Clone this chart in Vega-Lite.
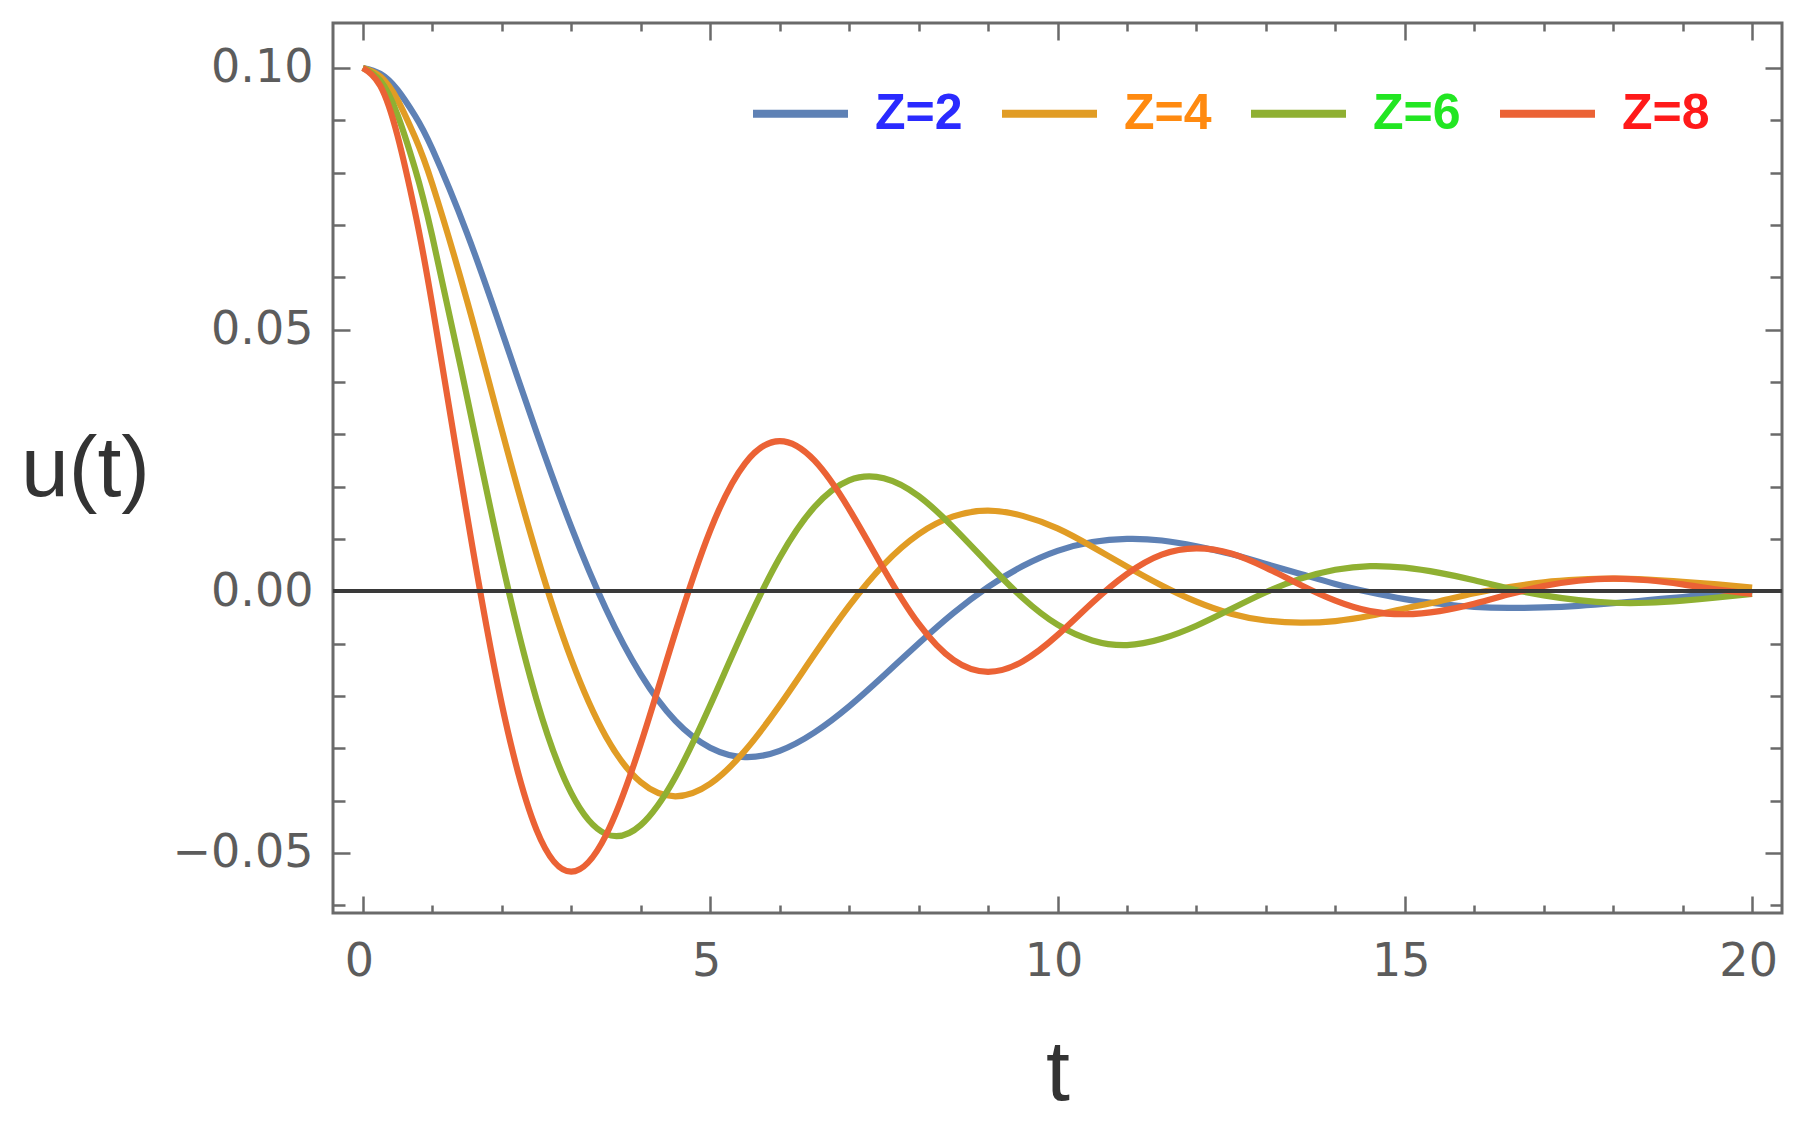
{
  "$schema": "https://vega.github.io/schema/vega-lite/v6.json",
  "width": 1449,
  "height": 890,
  "autosize": "none",
  "padding": {"left": 333, "top": 23, "right": 19, "bottom": 211},
  "background": "white",
  "data": {
    "values": [
      {"t": 0, "u": 0.1, "Z": "Z=2"}, {"t": 0.25, "u": 0.0989, "Z": "Z=2"}, {"t": 0.5, "u": 0.0958, "Z": "Z=2"}, {"t": 0.75, "u": 0.0909, "Z": "Z=2"},
      {"t": 1, "u": 0.0845, "Z": "Z=2"}, {"t": 1.5, "u": 0.0684, "Z": "Z=2"}, {"t": 2, "u": 0.0497, "Z": "Z=2"}, {"t": 2.5, "u": 0.0304, "Z": "Z=2"},
      {"t": 3, "u": 0.0123, "Z": "Z=2"}, {"t": 3.5, "u": -0.0034, "Z": "Z=2"}, {"t": 4, "u": -0.0159, "Z": "Z=2"}, {"t": 4.5, "u": -0.0248, "Z": "Z=2"},
      {"t": 5, "u": -0.0299, "Z": "Z=2"}, {"t": 5.5, "u": -0.0317, "Z": "Z=2"}, {"t": 6, "u": -0.0305, "Z": "Z=2"}, {"t": 6.5, "u": -0.027, "Z": "Z=2"},
      {"t": 7, "u": -0.022, "Z": "Z=2"}, {"t": 7.5, "u": -0.0161, "Z": "Z=2"}, {"t": 8, "u": -0.01, "Z": "Z=2"}, {"t": 8.5, "u": -0.0042, "Z": "Z=2"},
      {"t": 9, "u": 0.0008, "Z": "Z=2"}, {"t": 9.5, "u": 0.0048, "Z": "Z=2"}, {"t": 10, "u": 0.0077, "Z": "Z=2"}, {"t": 10.5, "u": 0.0094, "Z": "Z=2"},
      {"t": 11, "u": 0.01, "Z": "Z=2"}, {"t": 11.5, "u": 0.0097, "Z": "Z=2"}, {"t": 12, "u": 0.0086, "Z": "Z=2"}, {"t": 12.5, "u": 0.0071, "Z": "Z=2"},
      {"t": 13, "u": 0.0052, "Z": "Z=2"}, {"t": 13.5, "u": 0.0033, "Z": "Z=2"}, {"t": 14, "u": 0.0014, "Z": "Z=2"}, {"t": 14.5, "u": -0.0002, "Z": "Z=2"},
      {"t": 15, "u": -0.0015, "Z": "Z=2"}, {"t": 15.5, "u": -0.0024, "Z": "Z=2"}, {"t": 16, "u": -0.003, "Z": "Z=2"}, {"t": 16.5, "u": -0.0032, "Z": "Z=2"},
      {"t": 17, "u": -0.0031, "Z": "Z=2"}, {"t": 17.5, "u": -0.0028, "Z": "Z=2"}, {"t": 18, "u": -0.0023, "Z": "Z=2"}, {"t": 18.5, "u": -0.0017, "Z": "Z=2"},
      {"t": 19, "u": -0.0011, "Z": "Z=2"}, {"t": 19.5, "u": -0.0005, "Z": "Z=2"}, {"t": 20, "u": 0.0, "Z": "Z=2"},

      {"t": 0, "u": 0.1, "Z": "Z=4"}, {"t": 0.25, "u": 0.0984, "Z": "Z=4"}, {"t": 0.5, "u": 0.0939, "Z": "Z=4"}, {"t": 0.75, "u": 0.0868, "Z": "Z=4"},
      {"t": 1, "u": 0.0778, "Z": "Z=4"}, {"t": 1.5, "u": 0.0555, "Z": "Z=4"}, {"t": 2, "u": 0.0308, "Z": "Z=4"}, {"t": 2.5, "u": 0.0071, "Z": "Z=4"},
      {"t": 3, "u": -0.013, "Z": "Z=4"}, {"t": 3.5, "u": -0.0278, "Z": "Z=4"}, {"t": 4, "u": -0.0365, "Z": "Z=4"}, {"t": 4.5, "u": -0.0392, "Z": "Z=4"},
      {"t": 5, "u": -0.0368, "Z": "Z=4"}, {"t": 5.5, "u": -0.0305, "Z": "Z=4"}, {"t": 6, "u": -0.0218, "Z": "Z=4"}, {"t": 6.5, "u": -0.0121, "Z": "Z=4"},
      {"t": 7, "u": -0.0028, "Z": "Z=4"}, {"t": 7.5, "u": 0.0051, "Z": "Z=4"}, {"t": 8, "u": 0.0109, "Z": "Z=4"}, {"t": 8.5, "u": 0.0143, "Z": "Z=4"},
      {"t": 9, "u": 0.0154, "Z": "Z=4"}, {"t": 9.5, "u": 0.0144, "Z": "Z=4"}, {"t": 10, "u": 0.012, "Z": "Z=4"}, {"t": 10.5, "u": 0.0085, "Z": "Z=4"},
      {"t": 11, "u": 0.0047, "Z": "Z=4"}, {"t": 11.5, "u": 0.0011, "Z": "Z=4"}, {"t": 12, "u": -0.002, "Z": "Z=4"}, {"t": 12.5, "u": -0.0043, "Z": "Z=4"},
      {"t": 13, "u": -0.0056, "Z": "Z=4"}, {"t": 13.5, "u": -0.006, "Z": "Z=4"}, {"t": 14, "u": -0.0057, "Z": "Z=4"}, {"t": 14.5, "u": -0.0047, "Z": "Z=4"},
      {"t": 15, "u": -0.0033, "Z": "Z=4"}, {"t": 15.5, "u": -0.0019, "Z": "Z=4"}, {"t": 16, "u": -0.0004, "Z": "Z=4"}, {"t": 16.5, "u": 0.0008, "Z": "Z=4"},
      {"t": 17, "u": 0.0017, "Z": "Z=4"}, {"t": 17.5, "u": 0.0022, "Z": "Z=4"}, {"t": 18, "u": 0.0024, "Z": "Z=4"}, {"t": 18.5, "u": 0.0022, "Z": "Z=4"},
      {"t": 19, "u": 0.0018, "Z": "Z=4"}, {"t": 19.5, "u": 0.0013, "Z": "Z=4"}, {"t": 20, "u": 0.0007, "Z": "Z=4"},

      {"t": 0, "u": 0.1, "Z": "Z=6"}, {"t": 0.25, "u": 0.0976, "Z": "Z=6"}, {"t": 0.5, "u": 0.091, "Z": "Z=6"}, {"t": 0.75, "u": 0.0808, "Z": "Z=6"},
      {"t": 1, "u": 0.0678, "Z": "Z=6"}, {"t": 1.5, "u": 0.0371, "Z": "Z=6"}, {"t": 2, "u": 0.0058, "Z": "Z=6"}, {"t": 2.5, "u": -0.0207, "Z": "Z=6"},
      {"t": 3, "u": -0.0386, "Z": "Z=6"}, {"t": 3.5, "u": -0.0464, "Z": "Z=6"}, {"t": 4, "u": -0.0447, "Z": "Z=6"}, {"t": 4.5, "u": -0.0355, "Z": "Z=6"},
      {"t": 5, "u": -0.0218, "Z": "Z=6"}, {"t": 5.5, "u": -0.0069, "Z": "Z=6"}, {"t": 6, "u": 0.0064, "Z": "Z=6"}, {"t": 6.5, "u": 0.0161, "Z": "Z=6"},
      {"t": 7, "u": 0.0212, "Z": "Z=6"}, {"t": 7.5, "u": 0.0216, "Z": "Z=6"}, {"t": 8, "u": 0.0182, "Z": "Z=6"}, {"t": 8.5, "u": 0.0122, "Z": "Z=6"},
      {"t": 9, "u": 0.0053, "Z": "Z=6"}, {"t": 9.5, "u": -0.0013, "Z": "Z=6"}, {"t": 10, "u": -0.0064, "Z": "Z=6"}, {"t": 10.5, "u": -0.0094, "Z": "Z=6"},
      {"t": 11, "u": -0.0103, "Z": "Z=6"}, {"t": 11.5, "u": -0.0091, "Z": "Z=6"}, {"t": 12, "u": -0.0066, "Z": "Z=6"}, {"t": 12.5, "u": -0.0034, "Z": "Z=6"},
      {"t": 13, "u": -0.0002, "Z": "Z=6"}, {"t": 13.5, "u": 0.0024, "Z": "Z=6"}, {"t": 14, "u": 0.0041, "Z": "Z=6"}, {"t": 14.5, "u": 0.0048, "Z": "Z=6"},
      {"t": 15, "u": 0.0045, "Z": "Z=6"}, {"t": 15.5, "u": 0.0035, "Z": "Z=6"}, {"t": 16, "u": 0.0021, "Z": "Z=6"}, {"t": 16.5, "u": 0.0005, "Z": "Z=6"},
      {"t": 17, "u": -0.0008, "Z": "Z=6"}, {"t": 17.5, "u": -0.0017, "Z": "Z=6"}, {"t": 18, "u": -0.0022, "Z": "Z=6"}, {"t": 18.5, "u": -0.0022, "Z": "Z=6"},
      {"t": 19, "u": -0.0018, "Z": "Z=6"}, {"t": 19.5, "u": -0.0012, "Z": "Z=6"}, {"t": 20, "u": -0.0005, "Z": "Z=6"},

      {"t": 0, "u": 0.1, "Z": "Z=8"}, {"t": 0.25, "u": 0.0966, "Z": "Z=8"}, {"t": 0.5, "u": 0.087, "Z": "Z=8"}, {"t": 0.75, "u": 0.0725, "Z": "Z=8"},
      {"t": 1, "u": 0.0546, "Z": "Z=8"}, {"t": 1.5, "u": 0.0145, "Z": "Z=8"}, {"t": 2, "u": -0.0216, "Z": "Z=8"}, {"t": 2.5, "u": -0.0456, "Z": "Z=8"},
      {"t": 3, "u": -0.0536, "Z": "Z=8"}, {"t": 3.5, "u": -0.0466, "Z": "Z=8"}, {"t": 4, "u": -0.0292, "Z": "Z=8"}, {"t": 4.5, "u": -0.0078, "Z": "Z=8"},
      {"t": 5, "u": 0.0116, "Z": "Z=8"}, {"t": 5.5, "u": 0.0244, "Z": "Z=8"}, {"t": 6, "u": 0.0287, "Z": "Z=8"}, {"t": 6.5, "u": 0.025, "Z": "Z=8"},
      {"t": 7, "u": 0.0157, "Z": "Z=8"}, {"t": 7.5, "u": 0.0042, "Z": "Z=8"}, {"t": 8, "u": -0.0062, "Z": "Z=8"}, {"t": 8.5, "u": -0.0131, "Z": "Z=8"},
      {"t": 9, "u": -0.0154, "Z": "Z=8"}, {"t": 9.5, "u": -0.0134, "Z": "Z=8"}, {"t": 10, "u": -0.0084, "Z": "Z=8"}, {"t": 10.5, "u": -0.0022, "Z": "Z=8"},
      {"t": 11, "u": 0.0033, "Z": "Z=8"}, {"t": 11.5, "u": 0.007, "Z": "Z=8"}, {"t": 12, "u": 0.0082, "Z": "Z=8"}, {"t": 12.5, "u": 0.0072, "Z": "Z=8"},
      {"t": 13, "u": 0.0045, "Z": "Z=8"}, {"t": 13.5, "u": 0.0012, "Z": "Z=8"}, {"t": 14, "u": -0.0018, "Z": "Z=8"}, {"t": 14.5, "u": -0.0038, "Z": "Z=8"},
      {"t": 15, "u": -0.0044, "Z": "Z=8"}, {"t": 15.5, "u": -0.0038, "Z": "Z=8"}, {"t": 16, "u": -0.0024, "Z": "Z=8"}, {"t": 16.5, "u": -0.0006, "Z": "Z=8"},
      {"t": 17, "u": 0.001, "Z": "Z=8"}, {"t": 17.5, "u": 0.002, "Z": "Z=8"}, {"t": 18, "u": 0.0024, "Z": "Z=8"}, {"t": 18.5, "u": 0.0021, "Z": "Z=8"},
      {"t": 19, "u": 0.0013, "Z": "Z=8"}, {"t": 19.5, "u": 0.0003, "Z": "Z=8"}, {"t": 20, "u": -0.0005, "Z": "Z=8"}
    ]
  },
  "layer": [
    {
      "mark": {"type": "line", "strokeWidth": 6.2, "interpolate": "natural"},
      "encoding": {
        "x": {
          "field": "t",
          "type": "quantitative",
          "scale": {"domain": [-0.43, 20.43], "nice": false, "zero": false},
          "axis": {
            "orient": "bottom",
            "values": [0, 1, 2, 3, 4, 5, 6, 7, 8, 9, 10, 11, 12, 13, 14, 15, 16, 17, 18, 19, 20],
            "labelExpr": "datum.value % 5 === 0 ? datum.label : ''",
            "labelFlush": false,
            "labelOverlap": false,
            "labelFont": "DejaVu Sans",
            "labelFontSize": 46,
            "labelColor": "#5c5c5c",
            "labelPadding": 43,
            "labelOffset": -4,
            "tickSize": {"condition": {"test": "datum.value % 5 === 0", "value": -17}, "value": -8},
            "title": "t",
            "titleFont": "Liberation Sans",
            "titleFontSize": 86,
            "titleFontWeight": "normal",
            "titleColor": "#333333",
            "titleBaseline": "alphabetic",
            "titleY": 186
          }
        },
        "y": {
          "field": "u",
          "type": "quantitative",
          "scale": {"domain": [-0.0615, 0.1086], "nice": false, "zero": false},
          "axis": {
            "orient": "left",
            "values": [-0.06, -0.05, -0.04, -0.03, -0.02, -0.01, 0, 0.01, 0.02, 0.03, 0.04, 0.05, 0.06, 0.07, 0.08, 0.09, 0.1],
            "format": ".2f",
            "labelExpr": "abs(round(datum.value * 100)) % 5 === 0 ? datum.label : ''",
            "labelOverlap": false,
            "labelFlush": false,
            "labelFont": "DejaVu Sans",
            "labelFontSize": 46,
            "labelColor": "#5c5c5c",
            "labelPadding": 37,
            "tickSize": {"condition": {"test": "abs(round(datum.value * 100)) % 5 === 0", "value": -17}, "value": -12},
            "title": "u(t)",
            "titleFont": "Liberation Sans",
            "titleFontSize": 86,
            "titleFontWeight": "normal",
            "titleColor": "#333333",
            "titleAngle": 0,
            "titleAlign": "center",
            "titleBaseline": "alphabetic",
            "titleX": -248,
            "titleY": 472
          }
        },
        "color": {
          "field": "Z",
          "type": "nominal",
          "scale": {"domain": ["Z=2", "Z=4", "Z=6", "Z=8"], "range": ["#5E81B5", "#E19C24", "#8FB032", "#EB6235"]},
          "legend": {
            "orient": "none",
            "legendX": 416,
            "legendY": 39,
            "direction": "horizontal",
            "columns": 4,
            "title": null,
            "padding": 0,
            "symbolType": "stroke",
            "symbolSize": 9025,
            "symbolStrokeWidth": 8,
            "labelFont": "Liberation Sans",
            "labelFontSize": 50,
            "labelFontWeight": "bold",
            "labelOffset": 23,
            "labelLimit": 0,
            "columnPadding": 23,
            "encode": {
              "labels": {
                "update": {
                  "fill": {"signal": "datum.value === 'Z=2' ? '#2a2aff' : datum.value === 'Z=4' ? '#ff8a10' : datum.value === 'Z=6' ? '#22e622' : '#ff1a1a'"}
                }
              }
            }
          }
        }
      }
    },
    {
      "mark": {"type": "rule", "color": "#3a3a3a", "strokeWidth": 2.8},
      "encoding": {
        "x": {
          "datum": -0.43,
          "type": "quantitative",
          "scale": {"domain": [-0.43, 20.43], "nice": false, "zero": false},
          "axis": {
            "orient": "top",
            "values": [0, 1, 2, 3, 4, 5, 6, 7, 8, 9, 10, 11, 12, 13, 14, 15, 16, 17, 18, 19, 20],
            "labels": false,
            "title": null,
            "tickSize": {"condition": {"test": "datum.value % 5 === 0", "value": -17}, "value": -8}
          }
        },
        "x2": {"datum": 20.43},
        "y": {
          "datum": 0,
          "type": "quantitative",
          "scale": {"domain": [-0.0615, 0.1086], "nice": false, "zero": false},
          "axis": {
            "orient": "right",
            "values": [-0.06, -0.05, -0.04, -0.03, -0.02, -0.01, 0, 0.01, 0.02, 0.03, 0.04, 0.05, 0.06, 0.07, 0.08, 0.09, 0.1],
            "labels": false,
            "title": null,
            "tickSize": {"condition": {"test": "abs(round(datum.value * 100)) % 5 === 0", "value": -17}, "value": -12}
          }
        }
      }
    }
  ],
  "resolve": {"axis": {"x": "independent", "y": "independent"}},
  "config": {
    "view": {"stroke": "#6a6a6a", "strokeWidth": 3},
    "axis": {"grid": false, "domain": false, "tickColor": "#6a6a6a", "tickWidth": 2.5}
  }
}
